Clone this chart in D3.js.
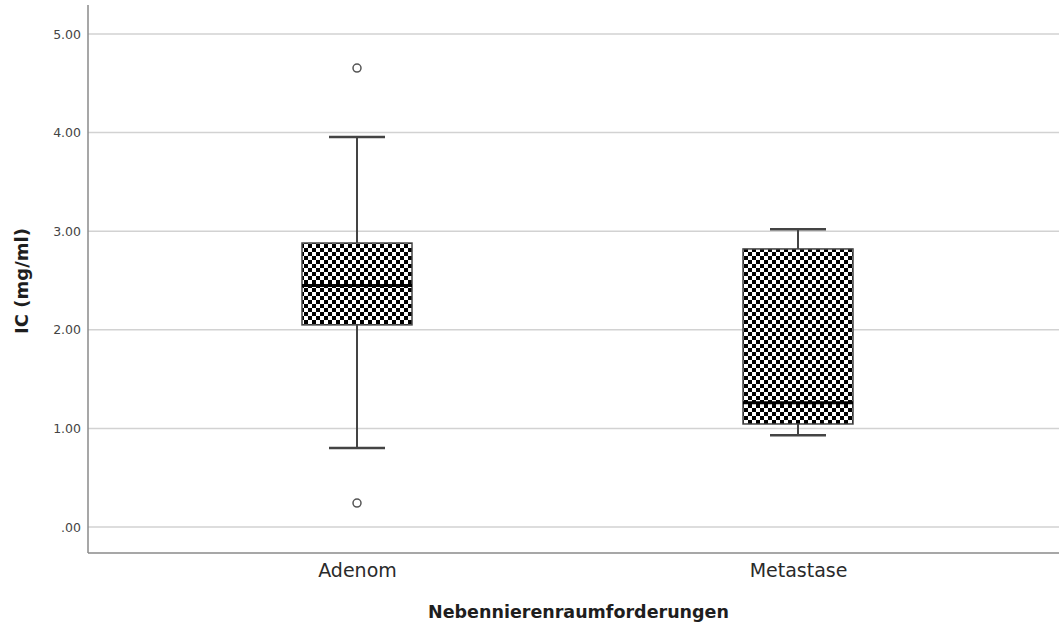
<!DOCTYPE html>
<html><head><meta charset="utf-8">
<script src="https://cdn.jsdelivr.net/npm/d3@7"></script>
<style>body{margin:0;background:#fff}svg{display:block}</style>
</head><body>
<svg id="c" width="1059" height="628"></svg>
<script>
const categories = ["Adenom", "Metastase"];
const q1 = [2.05, 1.045];
const median = [2.45, 1.26];
const q3 = [2.88, 2.82];
const whiskerLow = [0.80, 0.93];
const whiskerHigh = [3.955, 3.02];
const outliers = [[4.655, 0.243], []];
const yTicks = [0, 1, 2, 3, 4, 5];
const yTickLabels = [".00", "1.00", "2.00", "3.00", "4.00", "5.00"];
const yTitle = "IC (mg/ml)";
const xTitle = "Nebennierenraumforderungen";

(function () {
const svg = d3.select("#c");
const mLeft = 88, mRight = 1059, mTop = 5, mBottom = 553;
const font = "DejaVu Sans, Verdana, sans-serif";

const y = d3.scaleLinear().domain([0, 5]).range([527, 34]);
const x = d3.scalePoint().domain(categories).range([357, 798]);

const defs = svg.append("defs");
const pat = defs.append("pattern").attr("id", "chk").attr("patternUnits", "userSpaceOnUse")
  .attr("width", 8).attr("height", 8);
pat.append("rect").attr("width", 8).attr("height", 8).attr("fill", "#fff");
pat.append("rect").attr("x", 0).attr("y", 0).attr("width", 4).attr("height", 4).attr("fill", "#000");
pat.append("rect").attr("x", 4).attr("y", 4).attr("width", 4).attr("height", 4).attr("fill", "#000");

// gridlines
svg.append("g").selectAll("line").data(yTicks).join("line")
  .attr("x1", mLeft).attr("x2", mRight)
  .attr("y1", d => y(d)).attr("y2", d => y(d))
  .attr("stroke", "#d2d2d2").attr("stroke-width", 1.5);

// y axis
const yAxis = d3.axisLeft(y).tickValues(yTicks).tickSize(0).tickPadding(7)
  .tickFormat((d, i) => yTickLabels[i]);
const gy = svg.append("g").attr("transform", `translate(${mLeft},0)`).call(yAxis);
gy.select(".domain").remove();
gy.selectAll("text").attr("font-family", font).attr("font-size", 12.5).attr("fill", "#444");
svg.append("line").attr("x1", mLeft).attr("x2", mLeft).attr("y1", mTop).attr("y2", mBottom)
  .attr("stroke", "#8a8a8a").attr("stroke-width", 1.5);

// x axis
const xAxis = d3.axisBottom(x).tickSize(0).tickPadding(11);
const gx = svg.append("g").attr("transform", `translate(0,${mBottom})`).call(xAxis);
gx.select(".domain").remove();
gx.selectAll("text").attr("font-family", font).attr("font-size", 19).attr("fill", "#2a2a2a");
svg.append("line").attr("x1", mLeft).attr("x2", mRight).attr("y1", mBottom).attr("y2", mBottom)
  .attr("stroke", "#8a8a8a").attr("stroke-width", 1.5);

// titles
svg.append("text").attr("x", (mLeft + mRight) / 2 + 5).attr("y", 618).attr("text-anchor", "middle")
  .attr("font-family", font).attr("font-size", 17.5).attr("font-weight", "bold").attr("fill", "#1e1e1e")
  .text(xTitle);
svg.append("text").attr("transform", `translate(28,281) rotate(-90)`).attr("text-anchor", "middle")
  .attr("font-family", font).attr("font-size", 18).attr("font-weight", "bold").attr("fill", "#1e1e1e")
  .text(yTitle);

const boxW = 110, capW = 56;
const g = svg.append("g");
categories.forEach((c, i) => {
  const cx = x(c);
  g.append("line").attr("x1", cx).attr("x2", cx).attr("y1", y(whiskerHigh[i])).attr("y2", y(q3[i]))
    .attr("stroke", "#444").attr("stroke-width", 2);
  g.append("line").attr("x1", cx).attr("x2", cx).attr("y1", y(q1[i])).attr("y2", y(whiskerLow[i]))
    .attr("stroke", "#444").attr("stroke-width", 2);
  [whiskerHigh[i], whiskerLow[i]].forEach(v => {
    g.append("line").attr("x1", cx - capW / 2).attr("x2", cx + capW / 2).attr("y1", y(v)).attr("y2", y(v))
      .attr("stroke", "#444").attr("stroke-width", 2.5);
  });
  g.append("rect").attr("x", cx - boxW / 2).attr("y", y(q3[i]))
    .attr("width", boxW).attr("height", y(q1[i]) - y(q3[i]))
    .attr("fill", "url(#chk)").attr("stroke", "#444").attr("stroke-width", 1.5);
  g.append("line").attr("x1", cx - boxW / 2).attr("x2", cx + boxW / 2)
    .attr("y1", y(median[i])).attr("y2", y(median[i]))
    .attr("stroke", "#000").attr("stroke-width", 3);
  g.selectAll(null).data(outliers[i]).join("circle")
    .attr("cx", cx).attr("cy", d => y(d)).attr("r", 4)
    .attr("fill", "#fff").attr("stroke", "#555").attr("stroke-width", 1.5);
});
})();
</script>
</body></html>
